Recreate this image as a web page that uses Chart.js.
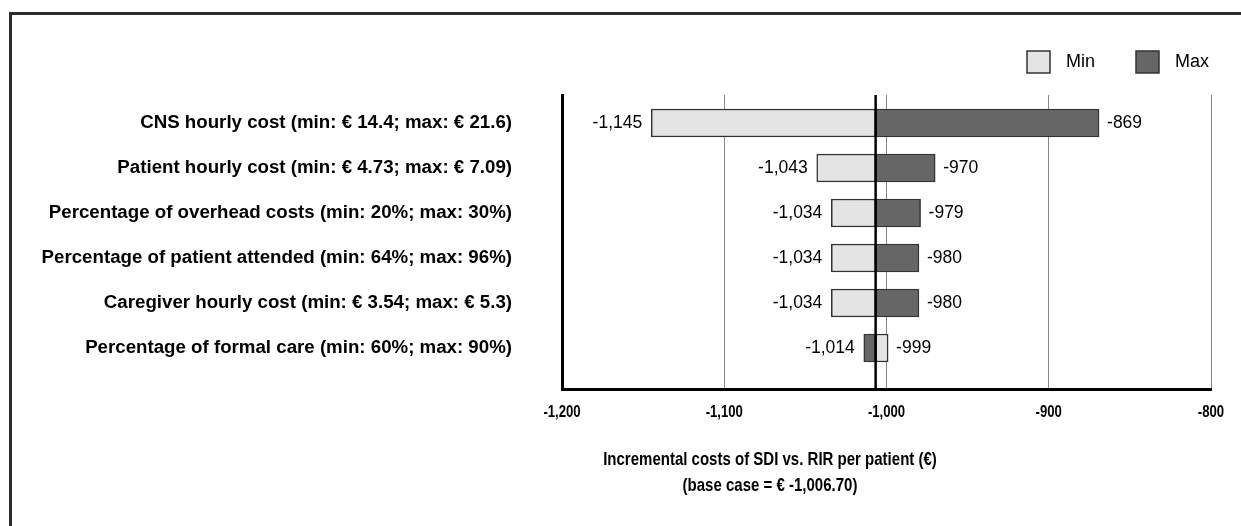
<!DOCTYPE html>
<html>
<head>
<meta charset="utf-8">
<script src="https://cdn.jsdelivr.net/npm/chart.js@4.4.0/dist/chart.umd.min.js"></script>
<style>
  html, body { margin: 0; padding: 0; background: #fff; }
  canvas { display: block; }
</style>
</head>
<body>
<canvas id="myChart" width="1241" height="526"></canvas>
<script>
// tornado data (one-way sensitivity analysis)
var parameters = [
  "CNS hourly cost (min: \u20ac 14.4; max: \u20ac 21.6)",
  "Patient hourly cost (min: \u20ac 4.73; max: \u20ac 7.09)",
  "Percentage of overhead costs (min: 20%; max: 30%)",
  "Percentage of patient attended (min: 64%; max: 96%)",
  "Caregiver hourly cost (min: \u20ac 3.54; max: \u20ac 5.3)",
  "Percentage of formal care (min: 60%; max: 90%)"
];
var minResults = [-1145, -1043, -1034, -1034, -1034, -999];
var maxResults = [-869, -970, -979, -980, -980, -1014];
var baseCase = -1006.7;
var xTicks = [-1200, -1100, -1000, -900, -800];
var titleLines = [
  "Incremental costs of SDI vs. RIR per patient (\u20ac)",
  "(base case = \u20ac -1,006.70)"
];

var SANS = '"Liberation Sans", Arial, Helvetica, sans-serif';
Chart.defaults.font.family = SANS;
Chart.defaults.color = '#000';

function rangeData(vals) {
  return vals.map(function (v, i) { return { x: [v, baseCase], y: i }; });
}

// condensed text (x tick labels and axis title look narrow in the original)
function narrowText(ctx, txt, x, y, sx) {
  ctx.save();
  ctx.translate(x, y);
  ctx.scale(sx, 1);
  ctx.fillText(txt, 0, 0);
  ctx.restore();
}

// frame, base line, value labels, legend, x tick labels and axis title
var extras = {
  id: 'extras',
  beforeDraw: function (chart) {
    var ctx = chart.ctx;
    ctx.save();
    ctx.fillStyle = '#fff';
    ctx.fillRect(0, 0, chart.width, chart.height);
    ctx.strokeStyle = '#2b2b2b';
    ctx.lineWidth = 3;
    ctx.beginPath();
    ctx.moveTo(10.5, chart.height);
    ctx.lineTo(10.5, 13.5);
    ctx.lineTo(chart.width, 13.5);
    ctx.stroke();
    ctx.restore();
  },
  afterDatasetsDraw: function (chart) {
    var ctx = chart.ctx, xs = chart.scales.x, ys = chart.scales.y, area = chart.chartArea;
    ctx.save();
    // base case line
    var bx = xs.getPixelForValue(baseCase);
    ctx.strokeStyle = '#000';
    ctx.lineWidth = 2.5;
    ctx.beginPath();
    ctx.moveTo(bx, area.top);
    ctx.lineTo(bx, area.bottom);
    ctx.stroke();
    // value labels
    ctx.font = '17.5px ' + SANS;
    ctx.fillStyle = '#000';
    ctx.textBaseline = 'middle';
    [minResults, maxResults].forEach(function (vals) {
      vals.forEach(function (v, i) {
        var px = xs.getPixelForValue(v), py = ys.getPixelForValue(i);
        var txt = v.toLocaleString('en-US');
        if (v < baseCase) { ctx.textAlign = 'right'; ctx.fillText(txt, px - 9, py); }
        else { ctx.textAlign = 'left'; ctx.fillText(txt, px + 8, py); }
      });
    });
    // legend
    var lx = [1027, 1136];
    ctx.textAlign = 'left';
    ctx.font = '18px ' + SANS;
    chart.data.datasets.forEach(function (ds, k) {
      ctx.fillStyle = ds.backgroundColor;
      ctx.fillRect(lx[k], 51, 23, 22);
      ctx.strokeStyle = ds.borderColor;
      ctx.lineWidth = 1.5;
      ctx.strokeRect(lx[k], 51, 23, 22);
      ctx.fillStyle = '#000';
      ctx.fillText(ds.label, lx[k] + 39, 62);
    });
    // x tick labels
    ctx.textAlign = 'center';
    ctx.font = 'bold 16px ' + SANS;
    xs.ticks.forEach(function (t) {
      narrowText(ctx, t.value.toLocaleString('en-US'), xs.getPixelForValue(t.value), 412.5, 0.82);
    });
    // axis title
    ctx.font = 'bold 19px ' + SANS;
    narrowText(ctx, titleLines[0], 770, 460, 0.79);
    narrowText(ctx, titleLines[1], 770, 486, 0.79);
    ctx.restore();
  }
};

var ctx = document.getElementById('myChart').getContext('2d');
var myChart = new Chart(ctx, {
  type: 'bar',
  data: {
    datasets: [{
      label: 'Min',
      data: rangeData(minResults),
      backgroundColor: '#e4e4e4',
      borderColor: '#333',
      borderWidth: 1.5,
      borderSkipped: false,
      barThickness: 28,
      grouped: false
    }, {
      label: 'Max',
      data: rangeData(maxResults),
      backgroundColor: '#666666',
      borderColor: '#333',
      borderWidth: 1.5,
      borderSkipped: false,
      barThickness: 28,
      grouped: false
    }]
  },
  options: {
    indexAxis: 'y',
    responsive: false,
    animation: false,
    layout: { padding: { left: 0, right: 30, top: 95, bottom: 0 } },
    plugins: { legend: { display: false }, tooltip: { enabled: false } },
    scales: {
      x: {
        type: 'linear',
        min: -1200,
        max: -800,
        afterBuildTicks: function (axis) { axis.ticks = xTicks.map(function (v) { return { value: v }; }); },
        ticks: { display: false },
        grid: { color: '#888', lineWidth: 1, drawTicks: false },
        border: { color: '#000', width: 3 },
        afterFit: function (axis) { axis.height = 137; }
      },
      y: {
        type: 'linear',
        reverse: true,
        offset: false,
        min: -0.622,
        max: 5.911,
        afterBuildTicks: function (axis) { axis.ticks = parameters.map(function (p, i) { return { value: i }; }); },
        ticks: {
          callback: function (v) { return parameters[v]; },
          font: { weight: 'bold', size: 18.7 },
          padding: 42,
          autoSkip: false
        },
        grid: { display: false },
        border: { color: '#000', width: 3 },
        afterFit: function (axis) { axis.width = 562; }
      }
    }
  },
  plugins: [extras]
});
</script>
</body>
</html>
